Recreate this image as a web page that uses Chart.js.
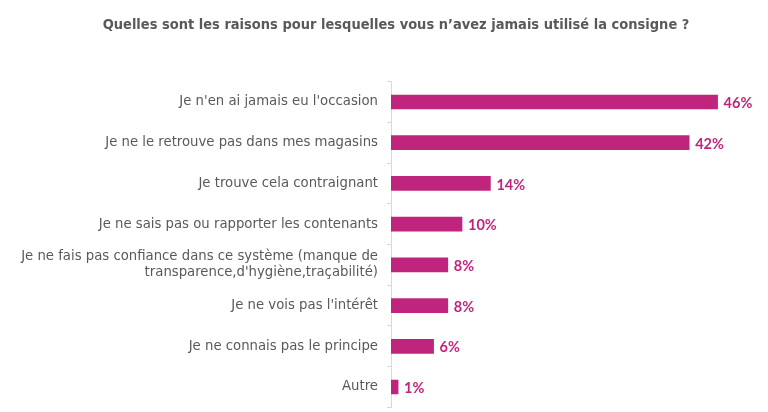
<!DOCTYPE html>
<html>
<head>
<meta charset="utf-8">
<script src="https://cdn.jsdelivr.net/npm/chart.js@4"></script>
<style>
  html, body { margin: 0; padding: 0; background: #ffffff; }
  #wrap { width: 768px; height: 412px; }
</style>
</head>
<body>
<div id="wrap"><canvas id="c" width="768" height="412"></canvas></div>
<script>
const categories = [
  "Je n'en ai jamais eu l'occasion",
  "Je ne le retrouve pas dans mes magasins",
  "Je trouve cela contraignant",
  "Je ne sais pas ou rapporter les contenants",
  ["Je ne fais pas confiance dans ce système (manque de", "transparence,d'hygiène,traçabilité)"],
  "Je ne vois pas l'intérêt",
  "Je ne connais pas le principe",
  "Autre"
];
const values = [46, 42, 14, 10, 8, 8, 6, 1];
const titleText = "Quelles sont les raisons pour lesquelles vous n\u2019avez jamais utilisé la consigne ?";

const barColor = '#C0257D';

const valueLabels = {
  id: 'valueLabels',
  afterDatasetsDraw(chart) {
    const ctx = chart.ctx;
    const meta = chart.getDatasetMeta(0);
    ctx.save();
    ctx.font = 'bold 14.5px Lato, "DejaVu Sans", sans-serif';
    ctx.fillStyle = barColor;
    ctx.textAlign = 'left';
    ctx.textBaseline = 'middle';
    meta.data.forEach((bar, i) => {
      ctx.fillText(values[i] + '%', bar.x + 6, bar.y + 1.5);
    });
    ctx.restore();
  }
};

const titleShift = {
  id: 'titleShift',
  afterLayout(chart) {
    const t = chart.titleBlock;
    if (t) { t.left = 46; t.right = 746; }
  }
};

new Chart(document.getElementById('c'), {
  type: 'bar',
  data: {
    labels: categories,
    datasets: [{
      data: values,
      backgroundColor: barColor,
      borderWidth: 0,
      barThickness: 14
    }]
  },
  options: {
    indexAxis: 'y',
    responsive: false,
    animation: false,
    devicePixelRatio: 1,
    layout: { padding: { left: 0, right: 22, top: 0, bottom: 4.6 } },
    plugins: {
      legend: { display: false },
      tooltip: { enabled: false },
      title: {
        display: true,
        text: titleText,
        color: '#595959',
        font: { family: '"DejaVu Sans Condensed", "DejaVu Sans", sans-serif', size: 14.5, weight: 'bold' },
        padding: { top: 16.3, bottom: 47.9 }
      }
    },
    scales: {
      x: {
        display: false,
        min: 0,
        max: 50
      },
      y: {
        afterFit(scale) {
          scale.width = 391;
          scale.paddingTop = 0;
          scale.paddingBottom = 0;
        },
        border: { display: true, color: '#d9d9d9', width: 1 },
        grid: {
          offset: true,
          drawOnChartArea: false,
          drawTicks: true,
          tickLength: 4,
          color: '#d9d9d9'
        },
        ticks: {
          color: '#595959',
          padding: 9,
          font: { family: '"DejaVu Sans", sans-serif', size: 13.25 }
        }
      }
    }
  },
  plugins: [valueLabels, titleShift]
});
</script>
</body>
</html>
